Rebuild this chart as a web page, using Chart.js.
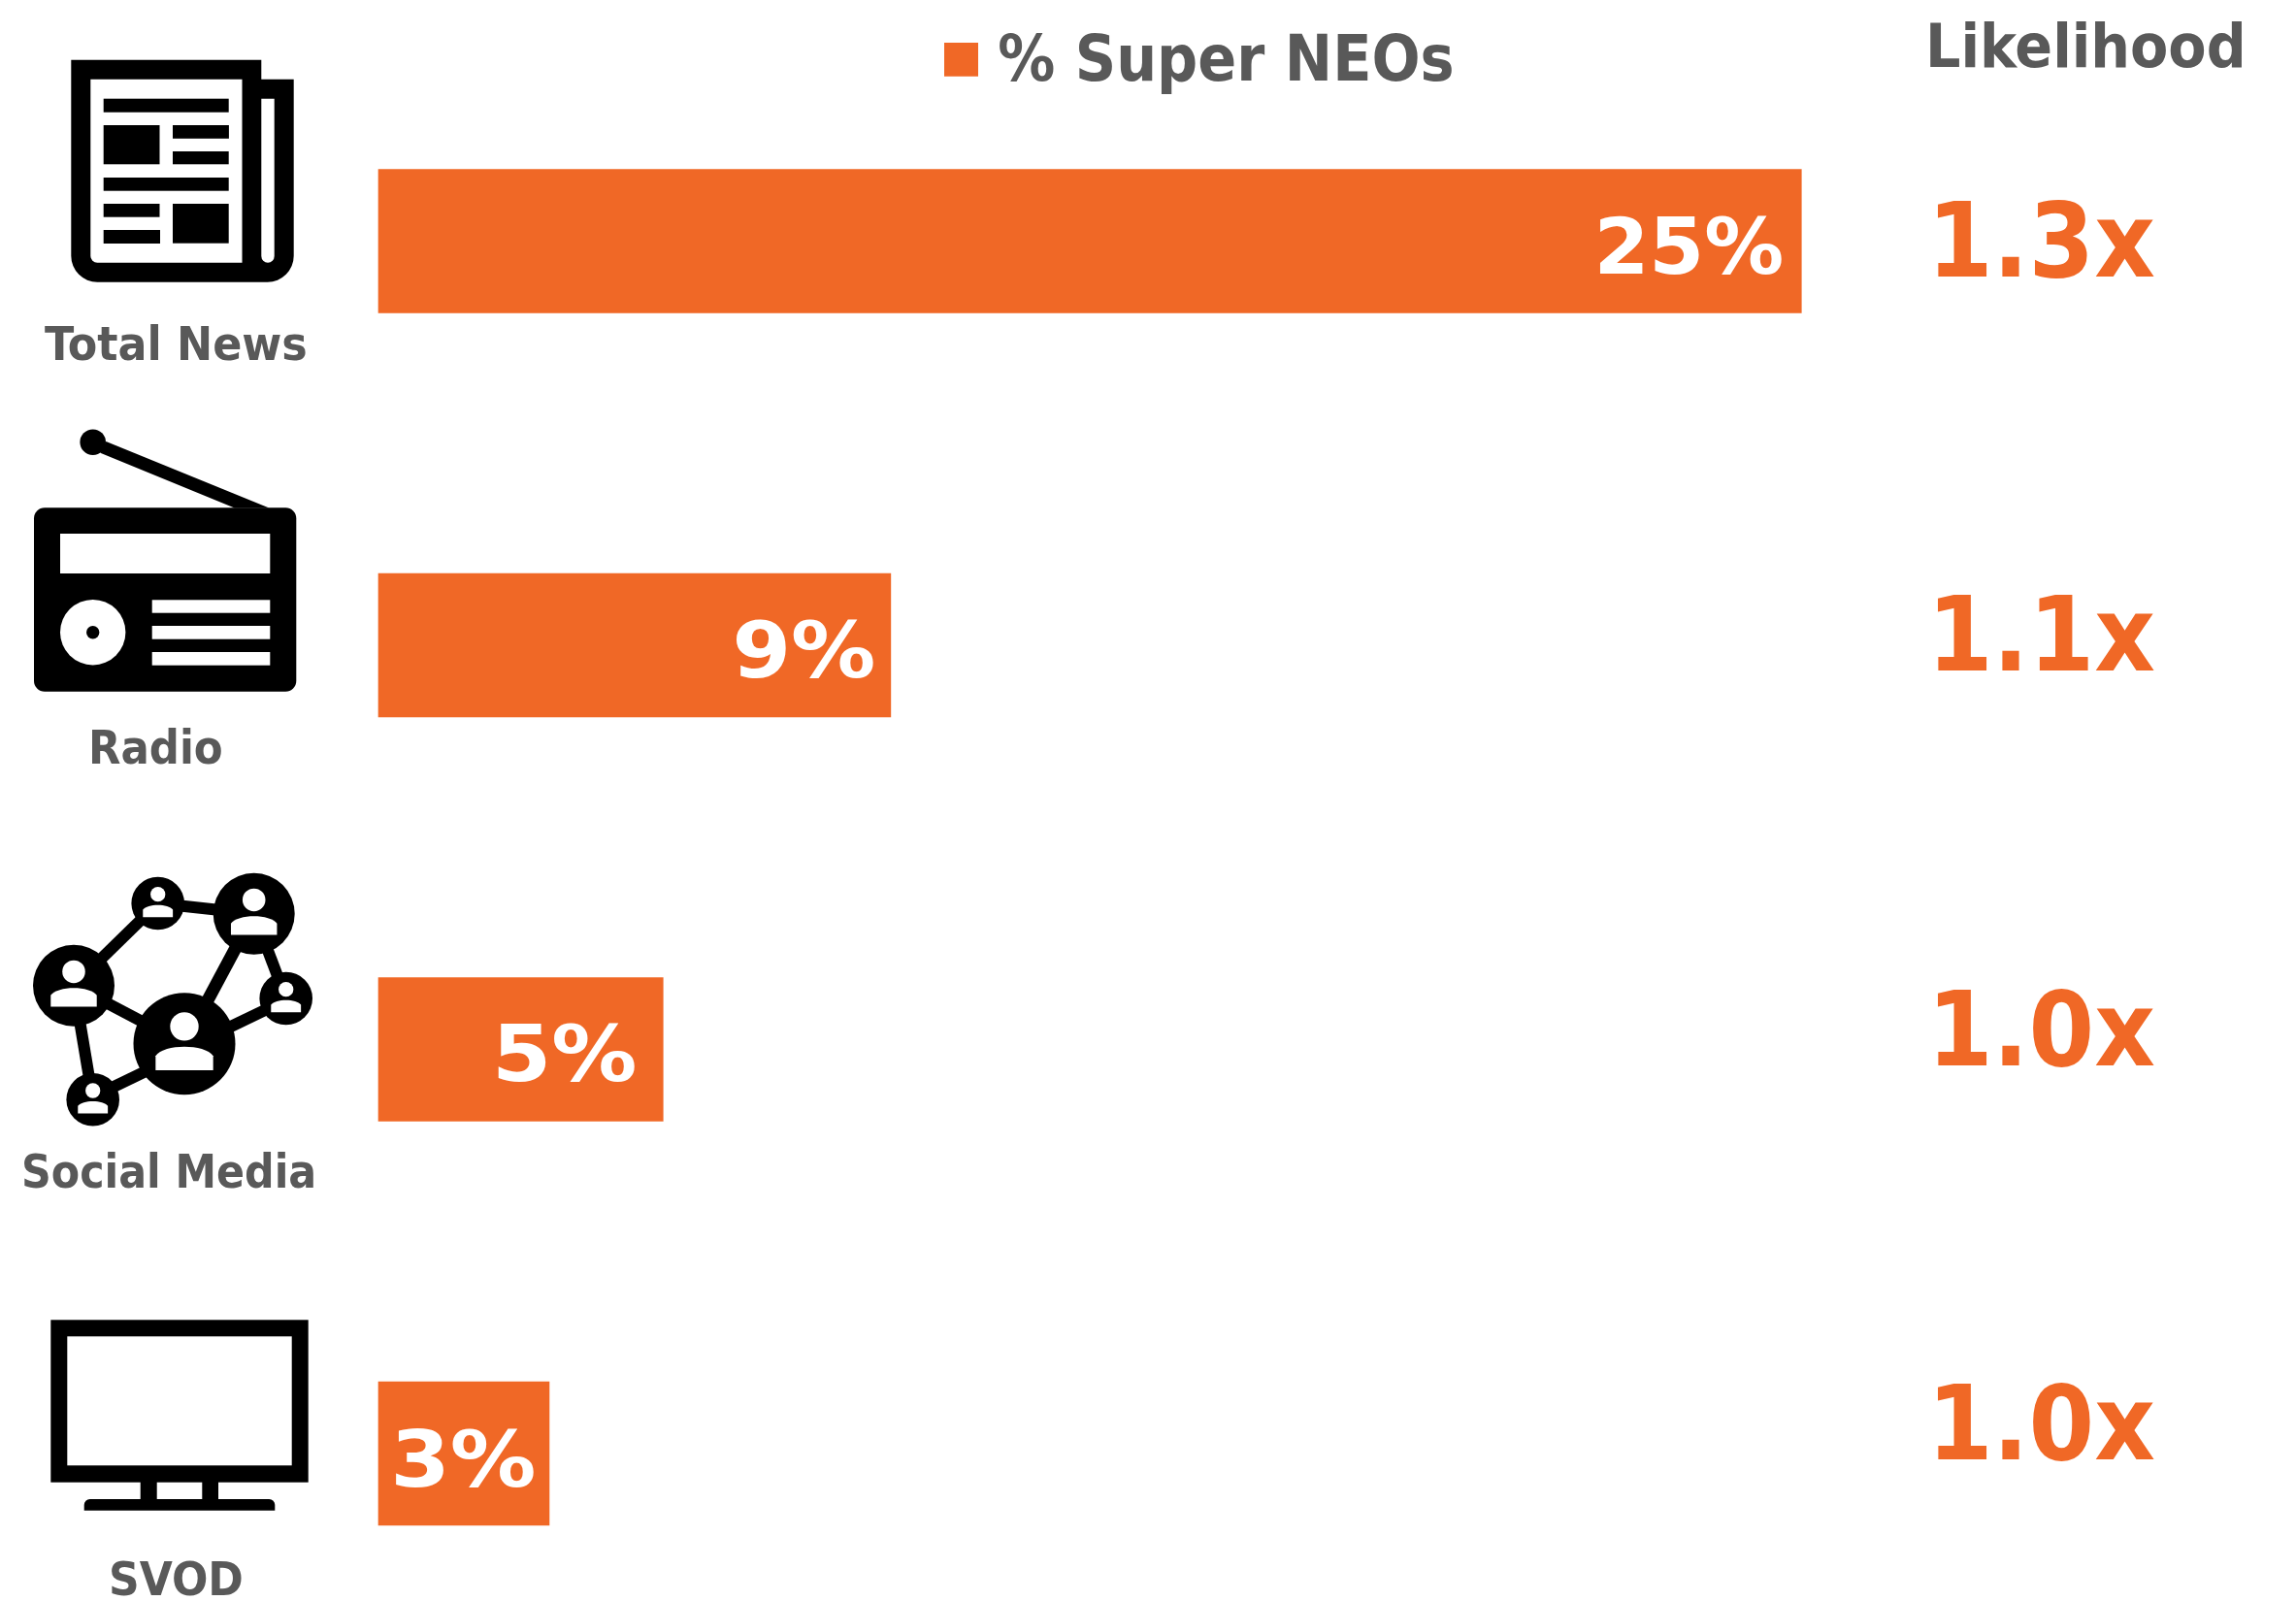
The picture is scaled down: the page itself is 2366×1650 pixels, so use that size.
<!DOCTYPE html>
<html>
<head>
<meta charset="utf-8">
<title>Super NEOs by media</title>
<script src="https://cdn.jsdelivr.net/npm/chart.js@4"></script>
<style>
  html, body { margin: 0; padding: 0; background: #fff; overflow: hidden; }
  canvas { display: block; }
</style>
</head>
<body>
<canvas id="chart" width="2366" height="1650"></canvas>
<script>
// Chart content
const categories = ['Total News', 'Radio', 'Social Media', 'SVOD'];
const superNeos = [25, 9, 5, 3];
const likelihood = ['1.3x', '1.1x', '1.0x', '1.0x'];
const seriesName = '% Super NEOs';
const likelihoodTitle = 'Likelihood';

// Colours and type
const ORANGE = '#F06826';
const GREY = '#595959';
const FAMILY = '"DejaVu Sans Condensed", "DejaVu Sans", sans-serif';

// Text placement: [left edge, baseline, ink width, font size]
const categoryText = [[46, 371, 269, 48], [94, 787, 134, 48], [25, 1224, 298, 48], [115, 1644, 134, 48]];
const valueText = [[1648, 282, 188, 81], [758, 698, 142, 81], [513, 1114, 141, 81], [407, 1532, 143, 81]];
const likelihoodText = [[1996, 285, 224], [1996, 691, 224], [1996, 1098, 224], [1996, 1504, 224]];

function fitText(ctx, text, x, y, width, size, color) {
  ctx.save();
  ctx.font = `bold ${size}px ${FAMILY}`;
  ctx.fillStyle = color;
  ctx.textAlign = 'left';
  ctx.textBaseline = 'alphabetic';
  const m = ctx.measureText(text);
  const ink = m.actualBoundingBoxRight + m.actualBoundingBoxLeft;
  const k = width / ink;
  ctx.translate(x, y);
  ctx.scale(k, 1);
  ctx.fillText(text, m.actualBoundingBoxLeft, 0);
  ctx.restore();
}

function rects(ctx, list) { list.forEach(r => ctx.fillRect(r[0], r[1], r[2] - r[0], r[3] - r[1])); }

function roundedFill(ctx, x0, y0, x1, y1, radii) {
  ctx.beginPath();
  ctx.roundRect(x0, y0, x1 - x0, y1 - y0, radii);
  ctx.fill();
}

function drawNewspaper(ctx) {
  ctx.fillStyle = '#000';
  ctx.beginPath();
  ctx.moveTo(73.3, 61.7);
  ctx.lineTo(269.3, 61.7);
  ctx.lineTo(269.3, 81.7);
  ctx.lineTo(302.7, 81.7);
  ctx.lineTo(302.7, 263.7);
  ctx.arcTo(302.7, 290.7, 275.7, 290.7, 27);
  ctx.lineTo(100.3, 290.7);
  ctx.arcTo(73.3, 290.7, 73.3, 263.7, 27);
  ctx.closePath();
  ctx.fill();
  ctx.fillStyle = '#fff';
  roundedFill(ctx, 93.3, 81.7, 249.5, 270.7, [0, 0, 0, 7]);
  roundedFill(ctx, 269.3, 101.7, 282.7, 270.7, [0, 0, 6.7, 6.7]);
  ctx.fillStyle = '#000';
  rects(ctx, [
    [106.7, 101.7, 235.7, 115.7],
    [106.7, 129, 164.5, 169.3],
    [178, 129, 235.9, 142.8],
    [178, 156, 235.7, 169.3],
    [106.7, 183, 235.7, 196.7],
    [106.7, 210, 164.5, 223.7],
    [106.7, 237, 165, 251],
    [178, 210, 235.7, 250.7]
  ]);
}

function drawRadio(ctx) {
  ctx.fillStyle = '#000';
  roundedFill(ctx, 35, 523.3, 305.3, 712.7, 11);
  ctx.beginPath();
  ctx.arc(95.7, 455.7, 13.3, 0, Math.PI * 2);
  ctx.fill();
  ctx.beginPath();
  ctx.moveTo(109.3, 455);
  ctx.lineTo(277.3, 523.5);
  ctx.lineTo(241.7, 523.5);
  ctx.lineTo(103.3, 466.7);
  ctx.closePath();
  ctx.fill();
  ctx.fillStyle = '#fff';
  rects(ctx, [
    [62, 550, 278.3, 591],
    [156.7, 618.3, 278.3, 631.7],
    [156.7, 645, 278.3, 658.7],
    [156.7, 672, 278.3, 685.7]
  ]);
  ctx.beginPath();
  ctx.arc(95.7, 651.7, 33.7, 0, Math.PI * 2);
  ctx.fill();
  ctx.fillStyle = '#000';
  ctx.beginPath();
  ctx.arc(95.7, 651.7, 6.7, 0, Math.PI * 2);
  ctx.fill();
}

function drawPerson(ctx, cx, cy, r) {
  ctx.fillStyle = '#000';
  ctx.beginPath();
  ctx.arc(cx, cy, r, 0, Math.PI * 2);
  ctx.fill();
  ctx.fillStyle = '#fff';
  ctx.beginPath();
  ctx.arc(cx, cy - 0.34 * r, 0.28 * r, 0, Math.PI * 2);
  ctx.fill();
  ctx.beginPath();
  ctx.moveTo(cx - 0.565 * r, cy + 0.52 * r);
  ctx.lineTo(cx - 0.565 * r, cy + 0.24 * r);
  ctx.bezierCurveTo(cx - 0.4 * r, cy + 0.0 * r, cx + 0.4 * r, cy + 0.0 * r, cx + 0.565 * r, cy + 0.24 * r);
  ctx.lineTo(cx + 0.565 * r, cy + 0.52 * r);
  ctx.closePath();
  ctx.fill();
}

function drawNetwork(ctx) {
  const nodes = [
    [190, 1075.7, 52.5],
    [261.7, 941.7, 42],
    [76, 1015.7, 42],
    [162.7, 931, 27.3],
    [294.7, 1029, 27.3],
    [95.7, 1133.3, 27.3]
  ];
  const links = [
    [76, 1015.7, 162.7, 931, 12],
    [162.7, 931, 261.7, 941.7, 12],
    [261.7, 941.7, 190, 1075.7, 13],
    [261.7, 941.7, 294.7, 1029, 12],
    [190, 1081, 294.7, 1030.7, 12],
    [76, 1015.7, 190, 1075.7, 12],
    [76, 1015.7, 95.7, 1133.3, 12],
    [95.7, 1130.4, 190, 1084.9, 12]
  ];
  ctx.strokeStyle = '#000';
  links.forEach(l => {
    ctx.lineWidth = l[4];
    ctx.beginPath();
    ctx.moveTo(l[0], l[1]);
    ctx.lineTo(l[2], l[3]);
    ctx.stroke();
  });
  nodes.forEach(n => drawPerson(ctx, n[0], n[1], n[2]));
}

function drawScreen(ctx) {
  ctx.fillStyle = '#000';
  rects(ctx, [
    [52.3, 1360.3, 317.7, 1527.7],
    [144.7, 1527, 161.7, 1546],
    [208.3, 1527, 225, 1546]
  ]);
  roundedFill(ctx, 86.7, 1545, 283.3, 1556.7, [6, 6, 0, 0]);
  ctx.fillStyle = '#fff';
  rects(ctx, [[69.3, 1377.3, 300.7, 1510.3]]);
}

// Legend marker: a square set slightly above the centre of its sprite,
// so the marker sits higher than the middle of the legend text.
function legendMarker() {
  const c = document.createElement('canvas');
  c.width = 35;
  c.height = 44;
  const g = c.getContext('2d');
  g.fillStyle = ORANGE;
  g.fillRect(0, 0, 35, 35);
  return c;
}

// Icons, category names, value labels and the likelihood column
const annotations = {
  id: 'annotations',
  afterDraw(chart) {
    const ctx = chart.ctx;
    ctx.save();
    drawNewspaper(ctx);
    drawRadio(ctx);
    drawNetwork(ctx);
    drawScreen(ctx);
    categories.forEach((name, i) => {
      const t = categoryText[i];
      fitText(ctx, name, t[0], t[1], t[2], t[3], GREY);
    });
    superNeos.forEach((v, i) => {
      const t = valueText[i];
      fitText(ctx, v + '%', t[0], t[1], t[2], t[3], '#fff');
    });
    fitText(ctx, likelihoodTitle, 1989, 69, 321, 63, GREY);
    likelihood.forEach((text, i) => {
      const t = likelihoodText[i];
      fitText(ctx, text, t[0], t[1], t[2], 107, ORANGE);
    });
    ctx.restore();
  }
};

new Chart(document.getElementById('chart'), {
  type: 'bar',
  data: {
    labels: categories,
    datasets: [{
      label: seriesName,
      data: superNeos,
      backgroundColor: ORANGE,
      borderWidth: 0,
      barThickness: 148,
      clip: false
    }]
  },
  plugins: [annotations],
  options: {
    indexAxis: 'y',
    responsive: false,
    animation: false,
    events: [],
    layout: { padding: { left: 390, right: 271, top: 0, bottom: 152 } },
    scales: {
      x: {
        position: 'top',
        min: 0,
        max: 29.07,
        grid: { display: false },
        border: { display: false },
        ticks: { display: false },
        afterFit(scale) { scale.height = 140; }
      },
      y: {
        offset: false,
        display: false
      }
    },
    plugins: {
      tooltip: { enabled: false },
      legend: {
        display: true,
        position: 'top',
        align: 'center',
        labels: {
          usePointStyle: true,
          pointStyle: legendMarker(),
          boxWidth: 9,
          boxHeight: 35,
          padding: 33,
          color: GREY,
          font: { family: FAMILY, size: 65.5, weight: 'bold' }
        }
      }
    }
  }
});
</script>
</body>
</html>
